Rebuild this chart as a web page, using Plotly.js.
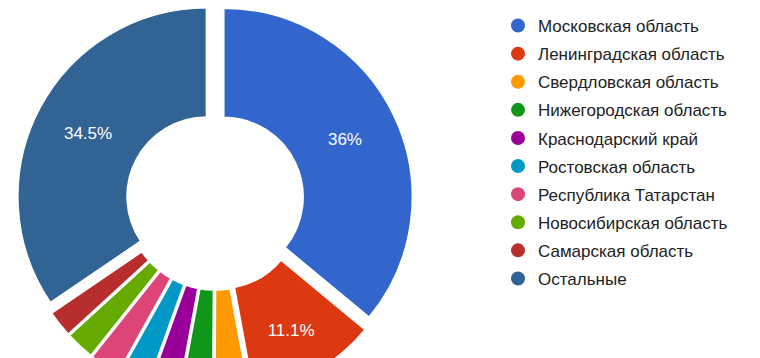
<!DOCTYPE html>
<html>
<head>
<meta charset="utf-8">
<script src="https://cdn.plot.ly/plotly-3.0.1.min.js"></script>
<style>
html,body{margin:0;padding:0;overflow:hidden;background:#fff;}
#chart{width:760px;height:440px;}
</style>
</head>
<body>
<div id="chart"></div>
<script>
var regions = ["Московская область","Ленинградская область","Свердловская область","Нижегородская область","Краснодарский край","Ростовская область","Республика Татарстан","Новосибирская область","Самарская область","Остальные"];
var shares = [36, 11.1, 3.0, 2.8, 2.6, 2.6, 2.6, 2.5, 2.3, 34.5];
var colors = ["#3366cc","#dc3912","#ff9900","#109618","#990099","#0099c6","#dd4477","#66aa00","#b82e2e","#316395"];

var labelText = shares.map(function(v){ return v > 10 ? v + "%" : ""; });

var W = 760, H = 440;
var cx = 215, cy = 201, R = 189, pull = 0.05;
var half = R * (1 + pull);

var traces = [{
  type: "pie",
  labels: regions,
  values: shares,
  text: labelText,
  textinfo: "text",
  textposition: "inside",
  insidetextorientation: "horizontal",
  insidetextfont: {color: "#ffffff", size: 17, family: "Liberation Sans, Arial, sans-serif"},
  sort: false,
  direction: "clockwise",
  rotation: 0,
  hole: 0.42,
  pull: pull,
  marker: {colors: colors, line: {color: "#ffffff", width: 2}},
  showlegend: false,
  hoverinfo: "none",
  domain: {x: [(cx - half) / W, (cx + half) / W], y: [(H - cy - half) / H, (H - cy + half) / H]}
}];

regions.forEach(function(name, i){
  traces.push({
    type: "scatter", mode: "markers",
    x: [null], y: [null],
    name: name,
    legendgroup: "g" + i,
    marker: {color: colors[i], size: 14, symbol: "circle"},
    showlegend: true,
    hoverinfo: "none"
  });
});

var layout = {
  width: W, height: H,
  margin: {l: 0, r: 0, t: 0, b: 0},
  paper_bgcolor: "#ffffff",
  plot_bgcolor: "rgba(0,0,0,0)",
  xaxis: {visible: false, domain: [0.99, 1]},
  yaxis: {visible: false, domain: [0.99, 1]},
  showlegend: true,
  legend: {
    x: 498 / W, xanchor: "left",
    y: (H - 8) / H, yanchor: "top",
    font: {family: "Liberation Sans, Arial, sans-serif", size: 17, color: "#222222"},
    bgcolor: "rgba(0,0,0,0)",
    borderwidth: 0,
    tracegroupgap: 3,
    itemsizing: "trace"
  }
};

Plotly.newPlot("chart", traces, layout, {staticPlot: true, displayModeBar: false});
</script>
</body>
</html>
